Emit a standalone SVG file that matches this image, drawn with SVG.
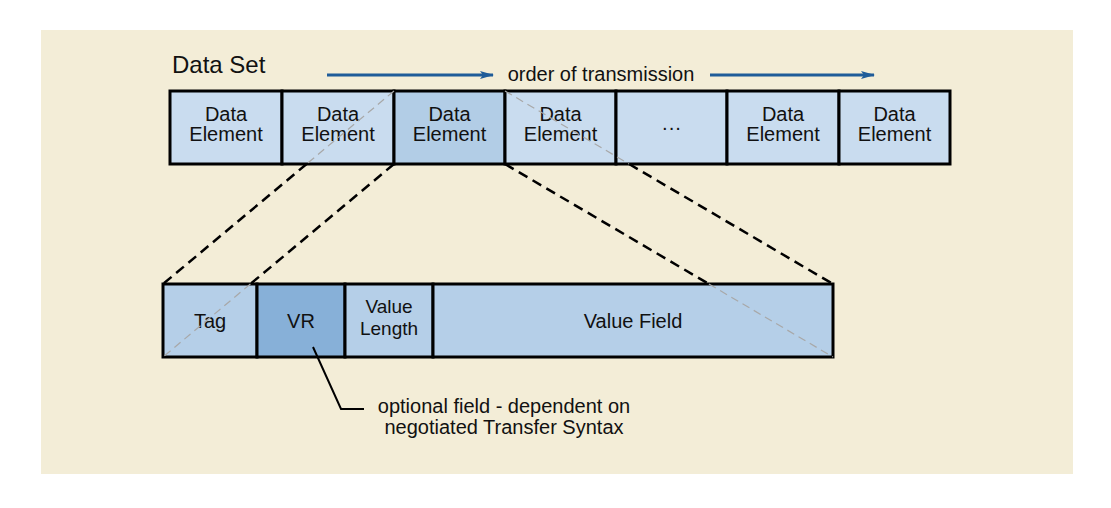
<svg xmlns="http://www.w3.org/2000/svg" width="1111" height="508" viewBox="0 0 1111 508">
<defs>
<marker id="ah" viewBox="0 0 14 8" refX="13" refY="4" markerWidth="14" markerHeight="8" markerUnits="userSpaceOnUse" orient="auto">
<path d="M0,0 L14,4 L0,8 L3,4 Z" fill="#1F5C99"/>
</marker>
</defs>
<style>
text{font-family:"Liberation Sans",Arial,sans-serif;fill:#111;font-size:20px;text-anchor:middle}
.box{stroke:#000;stroke-width:3}
.de{fill:#C9DCEF}
.hl{fill:#B2CDE6}
.fld{fill:#B5CFE8}
.vr{fill:#87B0D8}
.blk{stroke:#000;stroke-width:2.5;stroke-dasharray:10 6;fill:none}
.gry{stroke:#A8A8A8;stroke-width:1.2;stroke-dasharray:8 5;fill:none}
.arr{stroke:#1F5C99;stroke-width:3;fill:none}
</style>
<rect x="41" y="30" width="1032" height="444" fill="#F3EDD7"/>
<g id="title"><text x="172" y="73" style="text-anchor:start;font-size:24px">Data Set</text></g>
<g id="order"><text x="601" y="81">order of transmission</text></g>
<g id="de1"><rect class="box de" x="170" y="91" width="112" height="73"/><text x="226" y="121">Data</text><text x="226" y="141">Element</text></g>
<g id="de2"><rect class="box de" x="282" y="91" width="112" height="73"/><text x="338" y="121">Data</text><text x="338" y="141">Element</text></g>
<g id="de3"><rect class="box hl" x="394" y="91" width="111" height="73"/><text x="449.5" y="121">Data</text><text x="449.5" y="141">Element</text></g>
<g id="de4"><rect class="box de" x="505" y="91" width="111" height="73"/><text x="560.5" y="121">Data</text><text x="560.5" y="141">Element</text></g>
<g id="de5"><rect class="box de" x="616" y="91" width="111" height="73"/><text x="671.5" y="134">···</text></g>
<g id="de6"><rect class="box de" x="727" y="91" width="112" height="73"/><text x="783" y="121">Data</text><text x="783" y="141">Element</text></g>
<g id="de7"><rect class="box de" x="839" y="91" width="111" height="73"/><text x="894.5" y="121">Data</text><text x="894.5" y="141">Element</text></g>
<g id="tag"><rect class="box fld" x="163" y="284" width="94" height="73"/><text x="210" y="328">Tag</text></g>
<g id="vr"><rect class="box vr" x="257" y="284" width="88" height="73"/><text x="301" y="328">VR</text></g>
<g id="vlen"><rect class="box fld" x="345" y="284" width="88" height="73"/><text x="389" y="313" style="font-size:19px">Value</text><text x="389" y="335" style="font-size:19px">Length</text></g>
<g id="vfield"><rect class="box fld" x="433" y="284" width="400" height="73"/><text x="633" y="328">Value Field</text></g>
<g id="note"><text x="504" y="413">optional field - dependent on</text><text x="504" y="434">negotiated Transfer Syntax</text></g>
<g id="connectors">
<line class="arr" x1="327" y1="75" x2="493" y2="75" marker-end="url(#ah)"/>
<line class="arr" x1="710" y1="75" x2="874" y2="75" marker-end="url(#ah)"/>
<line class="gry" x1="394" y1="91" x2="306.6" y2="164"/>
<line class="blk" x1="306.6" y1="164" x2="163" y2="284"/>
<line class="blk" x1="394" y1="164" x2="250.4" y2="284"/>
<line class="gry" x1="250.4" y1="284" x2="163" y2="357"/>
<line class="blk" x1="505" y1="164" x2="708.9" y2="284"/>
<line class="gry" x1="708.9" y1="284" x2="833" y2="357"/>
<line class="gry" x1="505" y1="91" x2="629.1" y2="164"/>
<line class="blk" x1="629.1" y1="164" x2="833" y2="284"/>
<polyline points="313,347 341,409 364,409" fill="none" stroke="#000" stroke-width="2"/>
</g>
</svg>
